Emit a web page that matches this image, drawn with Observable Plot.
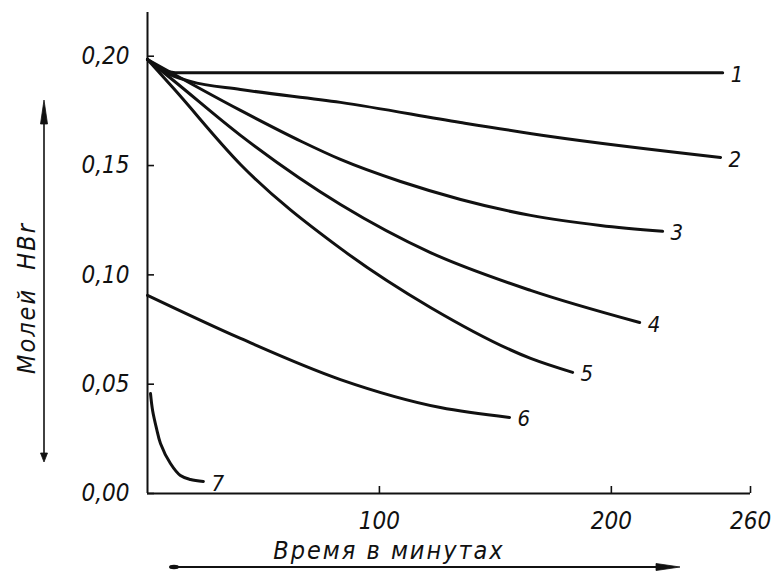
<!DOCTYPE html>
<html>
<head>
<meta charset="utf-8">
<script src="https://cdn.jsdelivr.net/npm/d3@7"></script>
<script src="https://cdn.jsdelivr.net/npm/@observablehq/plot@0.6"></script>
<style>
  body { margin: 0; background: #fff; }
  #chart svg { display: block; }
</style>
</head>
<body>
<div id="chart"></div>
<script>
// HBr remaining (moles) over time (minutes) for seven experiments
const curveIds = ["1", "2", "3", "4", "5", "6", "7"];

const time1 = [0, 5.6, 12, 248];
const hbr1  = [0.1985, 0.194, 0.1925, 0.1925];

const time2 = [0, 7.8, 18.5, 40.1, 83.2, 135, 173.8, 247.1];
const hbr2  = [0.1985, 0.1926, 0.1885, 0.1848, 0.1789, 0.1697, 0.1633, 0.1537];

const time3 = [0, 40.1, 66.4, 83.2, 109.1, 135, 165.2, 195.3, 222.1];
const hbr3  = [0.1985, 0.1752, 0.161, 0.1528, 0.1427, 0.1345, 0.1272, 0.1226, 0.1199];

const time4 = [0, 11.2, 40.1, 83.2, 122, 165.2, 212.2];
const hbr4  = [0.1985, 0.1889, 0.1638, 0.1322, 0.1102, 0.0929, 0.0782];

const time5 = [0, 11.2, 40.1, 83.2, 122, 165.2, 183.3];
const hbr5  = [0.1985, 0.1853, 0.1505, 0.1121, 0.0851, 0.0618, 0.0554];

const time6 = [0, 40.1, 83.2, 126.3, 156.1];
const hbr6  = [0.0906, 0.0709, 0.0521, 0.0393, 0.0348];

const time7 = [1.3, 2.2, 3.9, 5.6, 9.9, 14.2, 18.5, 24.1];
const hbr7  = [0.0457, 0.038, 0.0297, 0.0229, 0.0137, 0.0082, 0.0064, 0.0055];

const xTicks = [100, 200, 260];
const yTicks = [0, 0.05, 0.10, 0.15, 0.20];
const xDomain = [0, 260];
const yDomain = [0, 0.22];

const xTitle = "Время в минутах";
const yTitle = "Молей  HBr";

const times = [time1, time2, time3, time4, time5, time6, time7];
const values = [hbr1, hbr2, hbr3, hbr4, hbr5, hbr6, hbr7];

const rows = curveIds.flatMap((id, i) =>
  times[i].map((t, j) => ({id, t, v: values[i][j]})));
const ends = curveIds.map((id, i) => ({
  id, t: times[i][times[i].length - 1], v: values[i][values[i].length - 1]
}));

const ink = "#111";
const handFont = "'DejaVu Sans Condensed', 'DejaVu Sans', sans-serif";
const lineStyle = {
  x: "t", y: "v", z: "id",
  stroke: ink, strokeWidth: 3, strokeLinecap: "round", strokeLinejoin: "round"
};

const W = 771, H = 573;
const margin = {top: 12, right: 21, bottom: 80, left: 147};

const chart = Plot.plot({
  width: W,
  height: H,
  marginTop: margin.top,
  marginRight: margin.right,
  marginBottom: margin.bottom,
  marginLeft: margin.left,
  style: {background: "#fff", color: ink, fontFamily: handFont, fontStretch: "condensed"},
  x: {domain: xDomain},
  y: {domain: yDomain},
  marks: [
    // axis lines
    Plot.ruleX([0], {stroke: ink, strokeWidth: 2}),
    Plot.ruleY([0], {stroke: ink, strokeWidth: 2}),
    // inward ticks + italic labels
    Plot.axisY(yTicks, {
      tickSize: -7, tickPadding: 25, strokeWidth: 1.6,
      tickFormat: d => d.toFixed(2).replace(".", ","),
      fontSize: 24, fontStyle: "italic", letterSpacing: 1.5,
      label: null
    }),
    Plot.axisX(xTicks, {
      tickSize: -7, tickPadding: 25, strokeWidth: 1.6,
      tickFormat: d => String(d),
      fontSize: 24, fontStyle: "italic", letterSpacing: 1,
      label: null
    }),
    // slow curves: monotone keeps the plateau of curve 1 flat
    Plot.line(rows.filter(d => d.id !== "7"), {...lineStyle, curve: "monotone-x"}),
    // the fast-decaying curve 7
    Plot.line(rows.filter(d => d.id === "7"), {...lineStyle, curve: "catmull-rom"}),
    // curve numbers at the ends
    Plot.text(ends, {
      x: "t", y: "v", text: "id",
      dx: 8, dy: 2, textAnchor: "start",
      fontSize: 22, fontStyle: "italic", fill: ink
    })
  ]
});

const svg = d3.select(chart);

// axis titles
svg.append("text")
  .attr("x", 389).attr("y", 550)
  .attr("text-anchor", "middle").attr("dominant-baseline", "central")
  .attr("font-size", 25).attr("font-style", "italic").attr("letter-spacing", 2)
  .attr("fill", ink).text(xTitle);
svg.append("text")
  .attr("transform", "translate(26,298) rotate(-90)")
  .attr("text-anchor", "middle").attr("dominant-baseline", "central")
  .attr("font-size", 25).attr("font-style", "italic").attr("letter-spacing", 2)
  .style("white-space", "pre")
  .attr("fill", ink).text(yTitle);

// direction arrows beside the axis titles
const g = svg.append("g").attr("fill", ink).attr("stroke", ink);
const ax = 44, ay1 = 100, ay2 = 462;
g.append("line").attr("x1", ax).attr("x2", ax).attr("y1", ay1 + 10).attr("y2", ay2 - 4).attr("stroke-width", 1.6);
g.append("path").attr("d", `M${ax},${ay1} L${ax - 3.5},${ay1 + 24} L${ax + 3.5},${ay1 + 24} Z`).attr("stroke-width", 0.8);
g.append("path").attr("d", `M${ax},${ay2} L${ax - 3.5},${ay2 - 9} L${ax + 3.5},${ay2 - 9} Z`).attr("stroke-width", 0.8);
const bx1 = 170, bx2 = 680, by = 567;
g.append("line").attr("x1", bx1).attr("x2", bx2 - 10).attr("y1", by).attr("y2", by).attr("stroke-width", 1.8);
g.append("path").attr("d", `M${bx2},${by} L${bx2 - 24},${by - 3.5} L${bx2 - 24},${by + 3.5} Z`).attr("stroke-width", 0.8);
g.append("ellipse").attr("cx", bx1 + 4).attr("cy", by).attr("rx", 5).attr("ry", 2.2).attr("stroke", "none");

document.getElementById("chart").append(chart);
</script>
</body>
</html>
